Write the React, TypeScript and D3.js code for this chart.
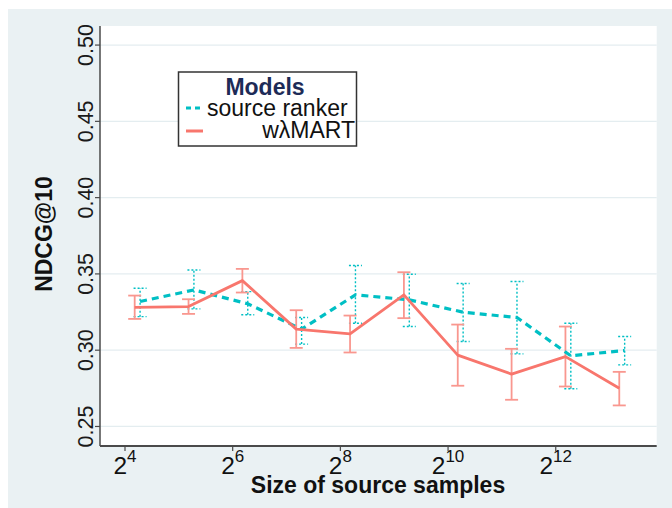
import React from "react";
import * as d3 from "d3";

// log2 of the source sample sizes
const exponents = [4, 5, 6, 7, 8, 9, 10, 11, 12, 13];

// wλMART: mean NDCG@10 with lower / upper interval
const martMean = [0.328, 0.3286, 0.3456, 0.3138, 0.3107, 0.3363, 0.2968, 0.2843, 0.2958, 0.2751];
const martLow = [0.3205, 0.3238, 0.3378, 0.3015, 0.2985, 0.321, 0.2767, 0.2675, 0.2762, 0.2638];
const martHigh = [0.3358, 0.3334, 0.3533, 0.3262, 0.3227, 0.3511, 0.3168, 0.3009, 0.3155, 0.2858];

// source ranker: mean NDCG@10 with lower / upper interval
const srcMean = [0.3319, 0.3395, 0.3304, 0.3138, 0.3363, 0.333, 0.3249, 0.3214, 0.2963, 0.2998];
const srcLow = [0.322, 0.3271, 0.3232, 0.304, 0.3177, 0.3155, 0.3057, 0.2976, 0.2747, 0.2904];
const srcHigh = [0.3406, 0.3526, 0.3384, 0.3214, 0.3555, 0.3498, 0.3437, 0.345, 0.3177, 0.309];

const yTicks = [0.25, 0.3, 0.35, 0.4, 0.45, 0.5];
const xTicks = [4, 6, 8, 10, 12];

const W = 672;
const H = 508;
const panel = { left: 100, top: 26, right: 656.7, bottom: 446 };

const FONT = "'Liberation Sans', Arial, Helvetica, sans-serif";
const RED = "#F8766D";
const RED_BAR = "#F9978F";
const CYAN = "#00BFC4";

// horizontal dodge (in log2 units) so the two series' bars do not overlap
const DODGE_CENTER = 0.23;
const DODGE_HALF = 0.05;

export default function App() {
  const x = d3.scaleLinear().domain([3.5357, 13.875]).range([panel.left, panel.right]);
  const y = d3.scaleLinear().domain([0.2372, 0.5125]).range([panel.bottom, panel.top]);

  const series = [
    {
      name: "source ranker",
      mean: srcMean,
      low: srcLow,
      high: srcHigh,
      offset: DODGE_CENTER + DODGE_HALF,
      color: CYAN,
      lineDash: "7,5",
      lineWidth: 3.2,
      barColor: CYAN,
      barDash: "2,2",
      barWidth: 1.4,
    },
    {
      name: "wλMART",
      mean: martMean,
      low: martLow,
      high: martHigh,
      offset: DODGE_CENTER - DODGE_HALF,
      color: RED,
      lineDash: undefined,
      lineWidth: 2.8,
      barColor: RED_BAR,
      barDash: undefined,
      barWidth: 1.8,
    },
  ];

  const line = d3
    .line<[number, number]>()
    .x((d) => d[0])
    .y((d) => d[1]);

  const capHalf = 6.5;

  return (
    <svg
      width={W}
      height={H}
      style={{ position: "absolute", left: 0, top: 0 }}
      fontFamily={FONT}
    >
      <rect x={0} y={0} width={W} height={H} fill="#ffffff" />
      <rect x={8} y={9} width={W - 8} height={H - 9} fill="#EAF1F3" />
      <rect
        x={panel.left}
        y={panel.top}
        width={panel.right - panel.left}
        height={panel.bottom - panel.top}
        fill="#ffffff"
      />

      {/* horizontal grid */}
      {yTicks.map((t) => (
        <line
          key={"g" + t}
          x1={panel.left}
          x2={panel.right}
          y1={y(t)}
          y2={y(t)}
          stroke="#E4EDF0"
          strokeWidth={1.3}
        />
      ))}

      {/* error bars */}
      {series.map((s) =>
        exponents.map((e, i) => {
          const cx = x(e + s.offset);
          return (
            <g key={s.name + "bar" + i} stroke={s.barColor} strokeWidth={s.barWidth} strokeDasharray={s.barDash}>
              <line x1={cx} x2={cx} y1={y(s.low[i])} y2={y(s.high[i])} />
              <line x1={cx - capHalf} x2={cx + capHalf} y1={y(s.low[i])} y2={y(s.low[i])} />
              <line x1={cx - capHalf} x2={cx + capHalf} y1={y(s.high[i])} y2={y(s.high[i])} />
            </g>
          );
        })
      )}

      {/* mean lines */}
      {series.map((s) => (
        <path
          key={s.name + "line"}
          d={line(exponents.map((e, i) => [x(e + s.offset), y(s.mean[i])])) || ""}
          fill="none"
          stroke={s.color}
          strokeWidth={s.lineWidth}
          strokeDasharray={s.lineDash}
          strokeLinejoin="round"
        />
      ))}

      {/* axes */}
      <line x1={panel.left} x2={panel.left} y1={panel.top} y2={panel.bottom} stroke="#4a4a4a" strokeWidth={1.5} />
      <line x1={panel.left} x2={panel.right} y1={panel.bottom} y2={panel.bottom} stroke="#4a4a4a" strokeWidth={1.8} />

      {yTicks.map((t) => (
        <g key={"yt" + t}>
          <line x1={panel.left - 5} x2={panel.left} y1={y(t)} y2={y(t)} stroke="#4a4a4a" strokeWidth={1.2} />
          <text
            transform={`translate(93,${y(t)}) rotate(-90)`}
            textAnchor="middle"
            fontSize={21.5}
            fill="#1a1a1a"
          >
            {t.toFixed(2)}
          </text>
        </g>
      ))}

      {xTicks.map((t) => (
        <g key={"xt" + t}>
          <line x1={x(t)} x2={x(t)} y1={panel.bottom} y2={panel.bottom + 5} stroke="#4a4a4a" strokeWidth={1.2} />
          <text x={x(t)} y={473.5} textAnchor="middle" fill="#111" fontSize={24.5}>
            2
            <tspan dy={-12} fontSize={17}>
              {t}
            </tspan>
          </text>
        </g>
      ))}

      {/* axis titles */}
      <text
        transform={`translate(51.5,234) rotate(-90)`}
        textAnchor="middle"
        fontSize={23}
        fontWeight="bold"
        fill="#111"
      >
        NDCG@10
      </text>
      <text x={378} y={493} textAnchor="middle" fontSize={23} fontWeight="bold" fill="#111">
        Size of source samples
      </text>

      {/* legend */}
      <g>
        <rect x={178.5} y={72} width={178} height={74} fill="#ffffff" stroke="#333" strokeWidth={1.5} />
        <text x={265} y={95} textAnchor="middle" fontSize={23} fontWeight="bold" fill="#1D2B57">
          Models
        </text>
        <line x1={186} x2={203} y1={108} y2={108} stroke={CYAN} strokeWidth={3} strokeDasharray="5,4" />
        <text x={207} y={115.5} fontSize={23} fill="#111">
          source ranker
        </text>
        <line x1={186} x2={203} y1={131} y2={131} stroke={RED} strokeWidth={3} />
        <text x={355} y={138} textAnchor="end" fontSize={23} fill="#111">
          wλMART
        </text>
      </g>
    </svg>
  );
}
